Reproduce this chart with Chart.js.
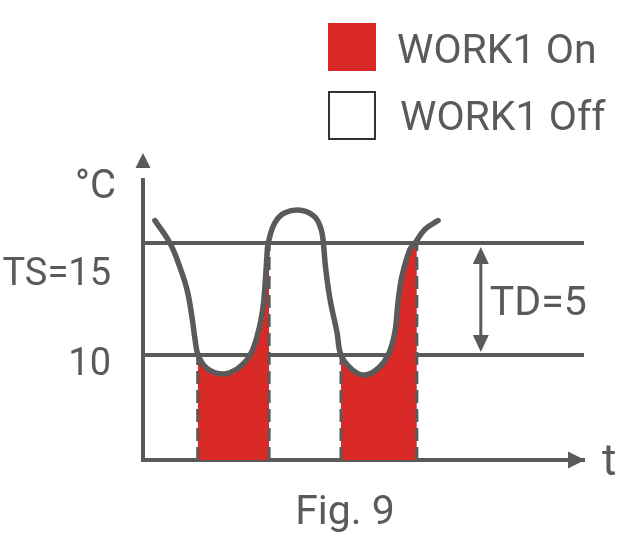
<!DOCTYPE html>
<html>
<head>
<meta charset="utf-8">
<script src="https://cdn.jsdelivr.net/npm/chart.js@4"></script>
<style>
  body { margin: 0; background: #fff; }
  #wrap { width: 643px; height: 554px; }
</style>
</head>
<body>
<div id="wrap"><canvas id="chart" width="643" height="554"></canvas></div>
<script>
// Temperature curve (t in arbitrary time units, temp in °C)
const curveT    = [2.7, 6.1, 8.4, 10.0, 11.1, 11.8, 12.5, 14.5, 18.1, 21.5, 24.3, 26.1, 27.2, 27.7, 28.1, 28.4, 29.9, 32.2, 36.1, 39.0, 40.4, 40.9, 41.4, 42.4, 44.0, 44.9, 47.4, 50.3, 53.3, 55.6, 57.1, 57.8, 58.7, 60.5, 61.7, 63.9, 66.9];
const curveTemp = [16.0, 15.0, 13.9, 12.9, 11.7, 10.7, 10.0, 9.4, 9.15, 9.4, 10.0, 11.0, 12.1, 13.2, 14.4, 15.0, 15.9, 16.35, 16.45, 16.15, 15.6, 15.0, 13.9, 12.5, 11.0, 10.0, 9.35, 9.1, 9.4, 10.0, 11.0, 12.3, 13.5, 14.7, 15.0, 15.6, 16.0];

// WORK1 "On" periods (start / end time and the curve temperature at those edges)
const onStart     = [12.4, 44.9];
const onStartTemp = [10.0, 10.0];
const onEnd       = [28.6, 62.1];
const onEndTemp   = [15.0, 15.0];

// Axis
const yTicks  = [10, 15];
const yLabels = ['10', 'TS=15'];
const yMin = 5.31, yMax = 17.81;
const tMin = 0, tMax = 100;
const tdAt = 76.6; // where the TD arrow sits
const legendLabels = ['WORK1 On', 'WORK1 Off'];

const GRAY = '#5a5a5a';
const RED = '#d92a27';
const FONT = 'Roboto, "Noto Sans", sans-serif';
const TENSION = 0.4;

const curve = curveT.map((t, i) => ({ x: t, y: curveTemp[i] }));

// fill datasets: the curve points inside each On period, plus the edges
const fills = onStart.map((s, k) => {
    const pts = [{ x: s, y: onStartTemp[k] }];
    curve.forEach(p => { if (p.x > s && p.x < onEnd[k]) pts.push(p); });
    pts.push({ x: onEnd[k], y: onEndTemp[k] });
    return {
        data: pts,
        borderWidth: 0,
        borderColor: 'rgba(0,0,0,0)',
        backgroundColor: RED,
        fill: 'start',
        pointRadius: 0,
        tension: TENSION,
        order: 3
    };
});

// dashed edges of the On periods
const edges = [];
onStart.forEach((s, k) => {
    edges.push([{ x: s, y: yMin }, { x: s, y: onStartTemp[k] }]);
    edges.push([{ x: onEnd[k], y: yMin }, { x: onEnd[k], y: onEndTemp[k] }]);
});
const edgeSets = edges.map(d => ({
    data: d,
    borderColor: GRAY,
    borderWidth: 3,
    borderDash: [13, 6],
    pointRadius: 0,
    fill: false,
    order: 2
}));

const extras = {
    id: 'extras',
    afterDraw(chart) {
        const ctx = chart.ctx;
        const xs = chart.scales.x, ys = chart.scales.y;
        const x0 = xs.left, yb = ys.bottom;
        ctx.save();
        ctx.fillStyle = GRAY;
        ctx.strokeStyle = GRAY;

        // y axis arrow
        ctx.beginPath();
        ctx.moveTo(x0, 153); ctx.lineTo(x0 - 7.5, 168); ctx.lineTo(x0 + 7.5, 168);
        ctx.closePath(); ctx.fill();
        // x axis arrow
        const xr = xs.right;
        ctx.beginPath();
        ctx.moveTo(xr + 1, yb); ctx.lineTo(xr - 16, yb - 8.5); ctx.lineTo(xr - 16, yb + 8.5);
        ctx.closePath(); ctx.fill();

        // TD double arrow
        const ax = xs.getPixelForValue(tdAt);
        const p15 = ys.getPixelForValue(15) + 4, p10 = ys.getPixelForValue(10) - 3;
        ctx.lineWidth = 3;
        ctx.beginPath(); ctx.moveTo(ax, p15 + 10); ctx.lineTo(ax, p10 - 10); ctx.stroke();
        ctx.beginPath();
        ctx.moveTo(ax, p15); ctx.lineTo(ax - 8, p15 + 17); ctx.lineTo(ax + 8, p15 + 17);
        ctx.closePath(); ctx.fill();
        ctx.beginPath();
        ctx.moveTo(ax, p10); ctx.lineTo(ax - 8, p10 - 17); ctx.lineTo(ax + 8, p10 - 17);
        ctx.closePath(); ctx.fill();

        // texts
        ctx.textBaseline = 'alphabetic';
        ctx.font = '38px ' + FONT;
        ctx.textAlign = 'right';
        ctx.fillText(yLabels[1], 111, ys.getPixelForValue(yTicks[1]) + 42);
        ctx.fillText(yLabels[0], 111, ys.getPixelForValue(yTicks[0]) + 20);
        ctx.font = '40px ' + FONT;
        ctx.fillText('°C', 116, 198);

        ctx.textAlign = 'left';
        ctx.font = '41px ' + FONT;
        ctx.fillText('TD=5', ax + 9, (ys.getPixelForValue(15) + ys.getPixelForValue(10)) / 2 + 16);
        ctx.font = '44px ' + FONT;
        ctx.fillText('t', xr + 18, yb + 15);

        ctx.textAlign = 'center';
        ctx.font = '41px ' + FONT;
        ctx.fillText('Fig. 9', 345, 524);

        // legend
        ctx.fillStyle = RED;
        ctx.fillRect(328, 23, 48, 48);
        ctx.fillStyle = '#fff';
        ctx.fillRect(329, 92, 46, 47);
        ctx.strokeStyle = '#333';
        ctx.lineWidth = 2;
        ctx.strokeRect(329, 92, 46, 47);
        ctx.fillStyle = GRAY;
        ctx.textAlign = 'left';
        ctx.font = '41px ' + FONT;
        ctx.fillText(legendLabels[0], 397, 63);
        ctx.fillText(legendLabels[1], 400, 130);
        ctx.restore();
    }
};

new Chart(document.getElementById('chart').getContext('2d'), {
    type: 'line',
    data: {
        datasets: [
            {
                data: curve,
                borderColor: GRAY,
                borderWidth: 5.5,
                borderCapStyle: 'round',
                pointRadius: 0,
                fill: false,
                tension: TENSION,
                order: 1
            },
            ...edgeSets,
            ...fills
        ]
    },
    options: {
        responsive: false,
        animation: false,
        layout: { padding: { top: 180, right: 59, left: 0, bottom: 0 } },
        scales: {
            x: {
                type: 'linear',
                min: tMin,
                max: tMax,
                grid: { display: false },
                border: { display: true, color: GRAY, width: 4 },
                ticks: { display: false },
                afterFit: s => { s.height = 94; }
            },
            y: {
                min: yMin,
                max: yMax,
                z: 1,
                afterBuildTicks: s => { s.ticks = yTicks.map(v => ({ value: v })); },
                grid: { color: GRAY, lineWidth: 4, drawTicks: false },
                border: { display: true, color: GRAY, width: 4 },
                ticks: { display: false },
                afterFit: s => { s.width = 143; }
            }
        },
        plugins: {
            legend: { display: false },
            tooltip: { enabled: false }
        }
    },
    plugins: [extras]
});
</script>
</body>
</html>
